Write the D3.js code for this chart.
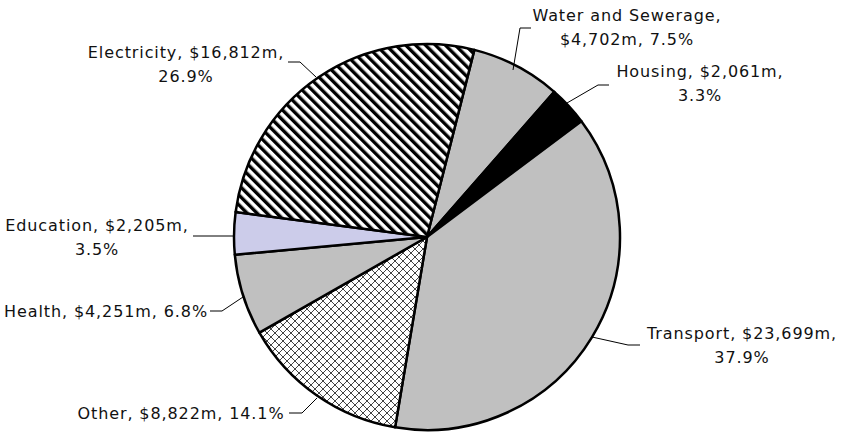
<!DOCTYPE html>
<html>
<head>
<meta charset="utf-8">
<script src="https://cdn.jsdelivr.net/npm/d3@7"></script>
<style>
  body { margin: 0; background: #fff; }
  text { font-family: "DejaVu Sans", Verdana, sans-serif; font-size: 16px; letter-spacing: 0.9px; fill: #111; }
</style>
</head>
<body>
<div id="content"></div>
<script>
// slices, clockwise starting from Water and Sewerage
const categories = ["Water and Sewerage", "Housing", "Transport", "Other", "Health", "Education", "Electricity"];
const values = [4702, 2061, 23699, 8822, 4251, 2205, 16812];
const labelLines = [
  ["Water and Sewerage,", "$4,702m, 7.5%"],
  ["Housing, $2,061m,", "3.3%"],
  ["Transport, $23,699m,", "37.9%"],
  ["Other, $8,822m, 14.1%"],
  ["Health, $4,251m, 6.8%"],
  ["Education, $2,205m,", "3.5%"],
  ["Electricity, $16,812m,", "26.9%"]
];

const w = 842;
const h = 435;
const cx = 427, cy = 237, r = 193;

// label centres and leader points
const labelPos = [[627, 15], [700, 71], [742, 333], [181, 413], [106, 311], [97, 225], [186, 52]];
const leaders = [
  [[531, 28], [520, 28], [513, 70]],
  [[609, 85], [598, 85], [567, 103]],
  [[640, 345], [628, 345], [592, 337]],
  [[289, 413], [302, 413], [317, 398]],
  [[210, 311], [222, 311], [243, 297]],
  [[193, 236], [233, 236]],
  [[288, 62], [300, 62], [316, 77]]
];

const svg = d3.select("#content")
  .append("svg")
  .attr("width", w)
  .attr("height", h);

const defs = svg.append("defs");

const stripes = defs.append("pattern")
  .attr("id", "stripes")
  .attr("patternUnits", "userSpaceOnUse")
  .attr("width", 7).attr("height", 7)
  .attr("patternTransform", "rotate(-45)");
stripes.append("rect").attr("width", 7).attr("height", 7).attr("fill", "#fff");
stripes.append("rect").attr("width", 3.4).attr("height", 7).attr("fill", "#000");

const cross = defs.append("pattern")
  .attr("id", "cross")
  .attr("patternUnits", "userSpaceOnUse")
  .attr("width", 8).attr("height", 8);
cross.append("rect").attr("width", 8).attr("height", 8).attr("fill", "#fff");
cross.append("path").attr("d", "M0,0L8,8M8,0L0,8M-1,7L1,9M7,-1L9,1M-1,1L1,-1M7,9L9,7")
  .attr("stroke", "#444").attr("stroke-width", 1).attr("fill", "none");

const fills = ["#c0c0c0", "#000", "#c0c0c0", "url(#cross)", "#c0c0c0", "#ccccea", "url(#stripes)"];

const pie = d3.pie()
  .sort(null)
  .value(d => d)
  .startAngle(14.2 * Math.PI / 180)
  .endAngle(14.2 * Math.PI / 180 + 2 * Math.PI);

const arc = d3.arc().innerRadius(0).outerRadius(r);

const g = svg.append("g").attr("transform", `translate(${cx},${cy})`);

g.selectAll("path")
  .data(pie(values))
  .enter()
  .append("path")
  .attr("d", arc)
  .attr("fill", (d, i) => fills[i])
  .attr("stroke", "#000")
  .attr("stroke-width", 2.5)
  .attr("stroke-linejoin", "round");

svg.selectAll(".leader")
  .data(leaders)
  .enter()
  .append("path")
  .attr("class", "leader")
  .attr("d", d3.line())
  .attr("fill", "none")
  .attr("stroke", "#000")
  .attr("stroke-width", 1);

const labels = svg.selectAll(".lbl")
  .data(labelLines)
  .enter()
  .append("text")
  .attr("class", "lbl")
  .attr("text-anchor", "middle")
  .attr("transform", (d, i) => `translate(${labelPos[i][0]},${labelPos[i][1]})`);

labels.selectAll("tspan")
  .data(d => d)
  .enter()
  .append("tspan")
  .attr("x", 0)
  .attr("y", (d, i) => i * 24)
  .attr("dy", "0.35em")
  .text(d => d);
</script>
</body>
</html>
